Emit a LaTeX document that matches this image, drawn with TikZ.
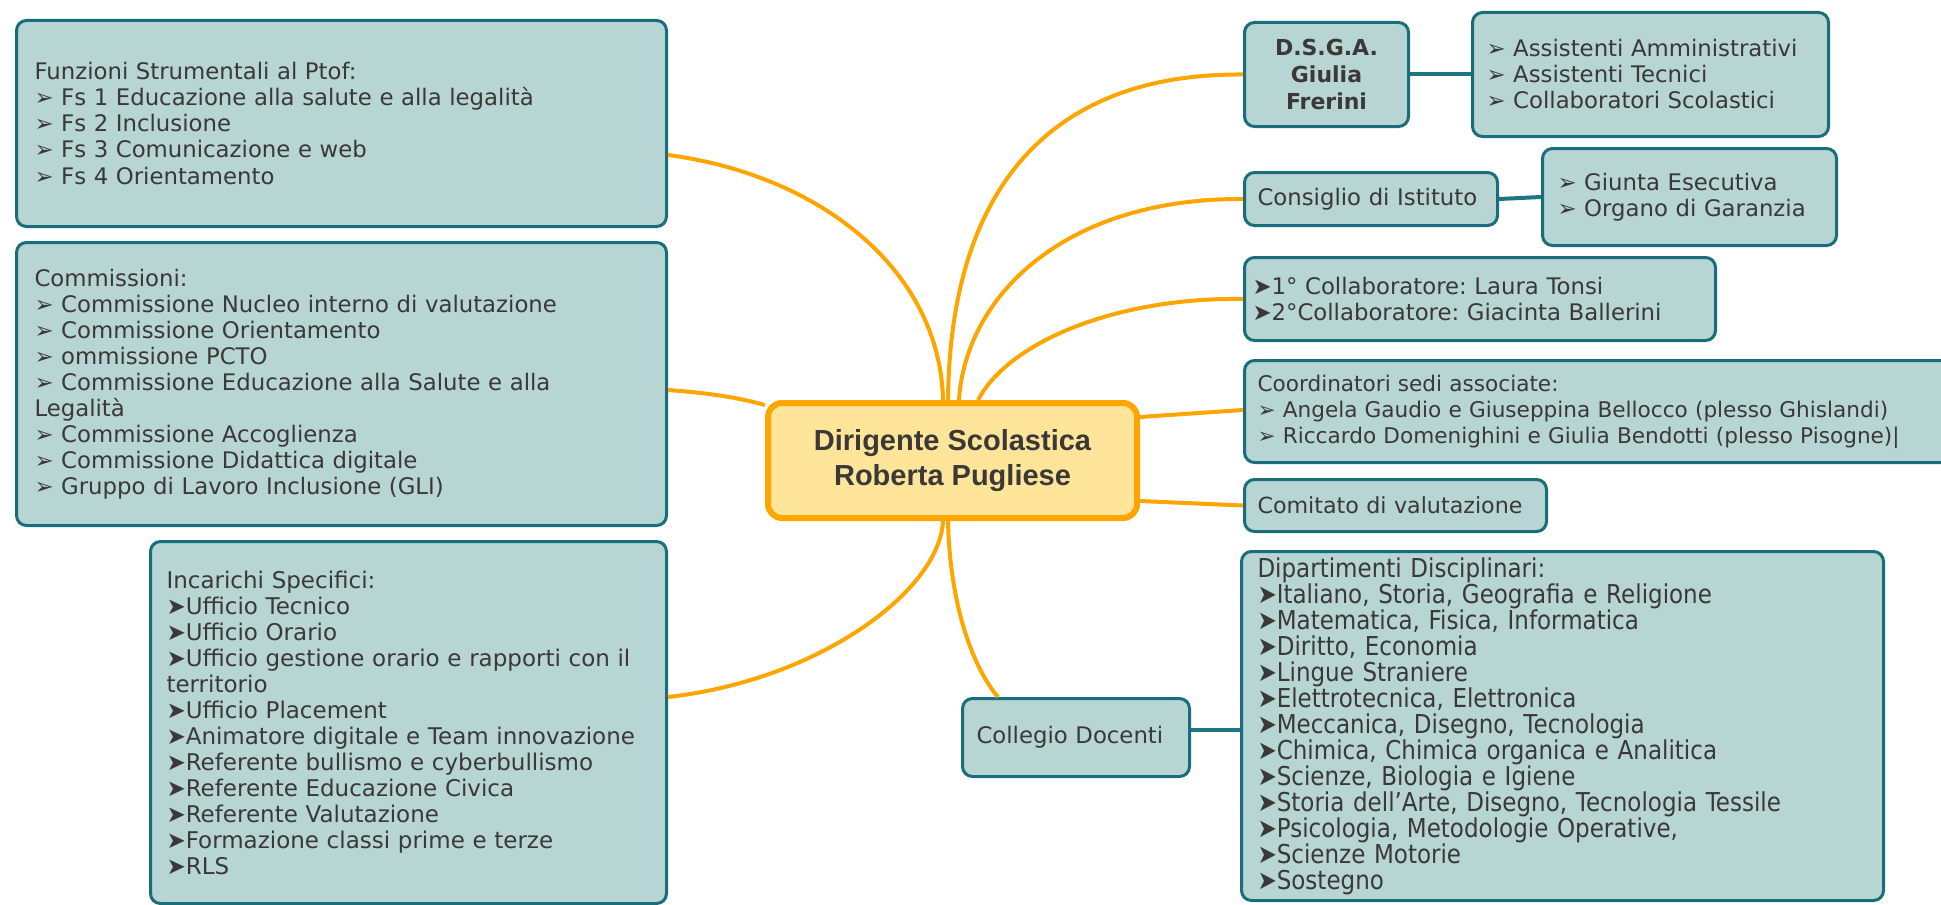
\documentclass[tikz,border=0pt]{standalone}
\usepackage{fontspec}
\setmainfont{DejaVu Sans}
\newfontfamily\condfont{DejaVu Sans}[FakeStretch=0.885]
\newfontfamily\headfont{Liberation Sans}
\definecolor{boxfill}{HTML}{B6D5D3}
\definecolor{boxline}{HTML}{1A6E7C}
\definecolor{txt}{HTML}{3B3838}
\definecolor{orng}{HTML}{FFA500}
\definecolor{ctrfill}{HTML}{FFE59A}
\definecolor{tealline}{HTML}{1F7580}
\begin{document}
\frenchspacing
\begin{tikzpicture}[x=0.5pt,y=-0.5pt,
  box/.style={draw=boxline, fill=boxfill, line width=1.5pt, rounded corners=5pt,
    inner ysep=0pt, align=left, anchor=north west, text=txt,
    font=\fontsize{11.4}{13}\selectfont},
  ctr/.style={draw=orng, fill=ctrfill, line width=3pt, rounded corners=7pt,
    inner sep=0pt, align=center, anchor=north west, text=txt,
    font=\headfont\bfseries\fontsize{14.5}{17.5}\selectfont},
  orangeline/.style={draw=orng, line width=2pt},
  tealconn/.style={draw=tealline, line width=2pt}]
\useasboundingbox (0,0) rectangle (1941,904);

% left boxes
\node[box, minimum width=325pt, minimum height=103pt, inner xsep=9pt, text width=307pt] (funz) at (15,19)
{Funzioni Strumentali al Ptof:\\
➢ Fs 1 Educazione alla salute e alla legalità\\
➢ Fs 2 Inclusione\\
➢ Fs 3 Comunicazione e web\\
➢ Fs 4 Orientamento};

\node[box, minimum width=325pt, minimum height=141.5pt, inner xsep=9pt, text width=307pt] (comm) at (15,241)
{Commissioni:\\
➢ Commissione Nucleo interno di valutazione\\
➢ Commissione Orientamento\\
➢ ommissione PCTO\\
➢ Commissione Educazione alla Salute e alla\\
Legalità\\
➢ Commissione Accoglienza\\
➢ Commissione Didattica digitale\\
➢ Gruppo di Lavoro Inclusione (GLI)};

\node[box, minimum width=258pt, minimum height=181pt, inner xsep=8pt, text width=242pt,
  font=\fontsize{11.5}{13}\selectfont] (inca) at (149,540)
{Incarichi Specifici:\\
➤Ufficio Tecnico\\
➤Ufficio Orario\\
➤Ufficio gestione orario e rapporti con il\\
territorio\\
➤Ufficio Placement\\
➤Animatore digitale e Team innovazione\\
➤Referente bullismo e cyberbullismo\\
➤Referente Educazione Civica\\
➤Referente Valutazione\\
➤Formazione classi prime e terze\\
➤RLS};

% central
\node[ctr, minimum width=184.5pt, minimum height=57.5pt] (central) at (765,400)
{Dirigente Scolastica\\Roberta Pugliese};

% right boxes
\node[box, minimum width=82pt, minimum height=52pt, inner xsep=2pt, align=center,
  font=\bfseries\fontsize{11}{13.3}\selectfont] (dsga) at (1243,21)
{D.S.G.A.\\Giulia\\Frerini};

\node[box, minimum width=178pt, minimum height=62pt, inner xsep=7pt, text width=164pt] (assi) at (1471,11)
{➢ Assistenti Amministrativi\\
➢ Assistenti Tecnici\\
➢ Collaboratori Scolastici};

\node[box, minimum width=126.5pt, minimum height=26.5pt, inner xsep=6.5pt, text width=113.5pt] (cons) at (1243,171)
{Consiglio di Istituto};

\node[box, minimum width=147pt, minimum height=48.5pt, inner xsep=7.5pt, text width=132pt] (giun) at (1541,147)
{➢ Giunta Esecutiva\\
➢ Organo di Garanzia};

\node[box, minimum width=235.5pt, minimum height=41.5pt, inner xsep=4pt, text width=227.5pt] (coll) at (1243,256)
{➤1° Collaboratore: Laura Tonsi\\
➤2°Collaboratore: Giacinta Ballerini};

\node[box, minimum width=353.5pt, minimum height=51pt, inner xsep=6.5pt, text width=340.5pt,
  font=\fontsize{10.8}{13}\selectfont] (coord) at (1243,359)
{Coordinatori sedi associate:\\
➢ Angela Gaudio e Giuseppina Bellocco (plesso Ghislandi)\\
➢ Riccardo Domenighini e Giulia Bendotti (plesso Pisogne)|};

\node[box, minimum width=151pt, minimum height=26pt, inner xsep=6.5pt, text width=138pt,
  font=\fontsize{11.1}{13}\selectfont] (comi) at (1243,478)
{Comitato di valutazione};

\node[box, minimum width=321pt, minimum height=174.5pt, inner xsep=8pt, text width=305pt,
  font=\condfont\fontsize{13}{13}\selectfont] (dipa) at (1240,550)
{Dipartimenti Disciplinari:\\
➤Italiano, Storia, Geografia e Religione\\
➤Matematica, Fisica, Informatica\\
➤Diritto, Economia\\
➤Lingue Straniere\\
➤Elettrotecnica, Elettronica\\
➤Meccanica, Disegno, Tecnologia\\
➤Chimica, Chimica organica e Analitica\\
➤Scienze, Biologia e Igiene\\
➤Storia dell’Arte, Disegno, Tecnologia Tessile\\
➤Psicologia, Metodologie Operative,\\
➤Scienze Motorie\\
➤Sostegno};

\node[box, minimum width=113.5pt, minimum height=39pt, inner xsep=7pt, text width=99.5pt] (cold) at (961,697)
{Collegio Docenti};

% orange connectors
\draw[orangeline] ([yshift=-68pt]funz.north east) .. controls (820,175) and (940,270) .. ([xshift=89pt]central.north west);
\draw[orangeline] ([yshift=-74.5pt]comm.north east) .. controls (710,393) and (740,398) .. ([yshift=-2.5pt]central.north west);
\draw[orangeline] ([yshift=-78.5pt]inca.north east) .. controls (820,680) and (940,590) .. ([xshift=89pt]central.south west);
\draw[orangeline] ([xshift=91.5pt]central.north west) .. controls (950,200) and (1040,73) .. (dsga.west);
\draw[orangeline] ([xshift=97pt]central.north west) .. controls (965,300) and (1060,198) .. (cons.west);
\draw[orangeline] ([xshift=106.5pt]central.north west) .. controls (1010,340) and (1120,297) .. (coll.west);
\draw[orangeline] ([yshift=-8.5pt]central.north east) -- ([yshift=-25.5pt]coord.north west);
\draw[orangeline] ([yshift=10pt]central.south east) -- (comi.west);
\draw[orangeline] ([xshift=91.5pt]central.south west) .. controls (950,610) and (975,670) .. ([xshift=18.5pt]cold.north west);

% teal connectors
\draw[tealconn] (dsga.east) -- (assi.west);
\draw[tealconn] (cons.east) -- (giun.west);
\draw[tealconn] ([yshift=4pt]cold.east) -- ([yshift=4pt]cold.east -| dipa.west);
\end{tikzpicture}
\end{document}
